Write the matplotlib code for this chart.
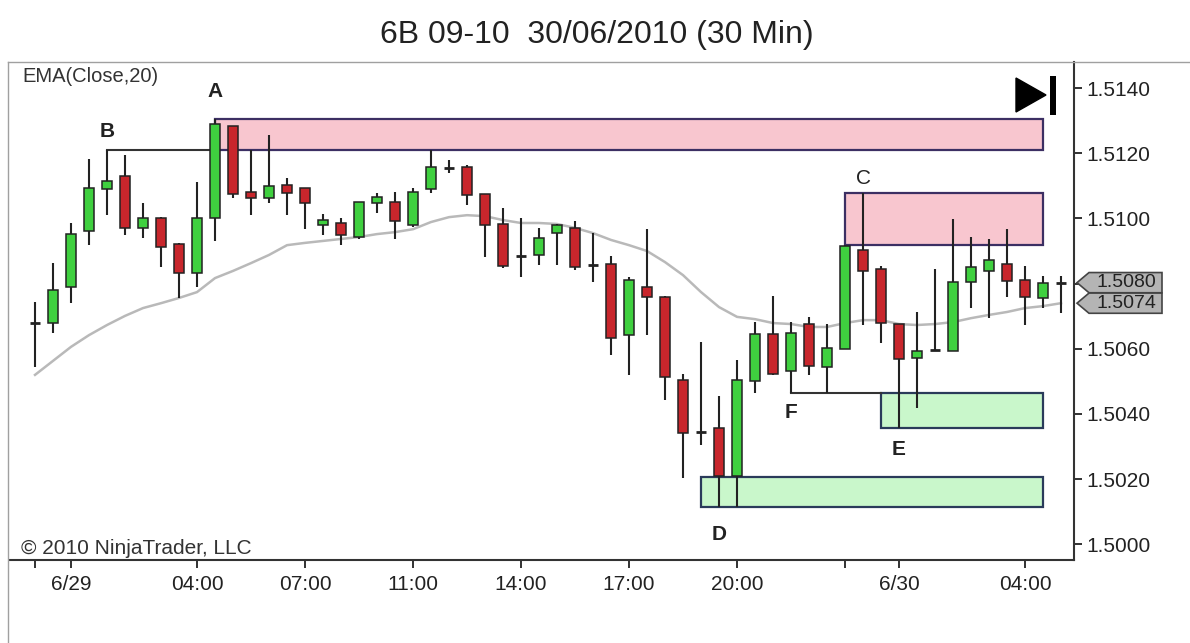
import matplotlib
matplotlib.use('Agg')
import matplotlib.pyplot as plt
from matplotlib.patches import Rectangle, Polygon
from matplotlib.lines import Line2D
from matplotlib.transforms import blended_transform_factory

plt.rcParams['font.family'] = ['Liberation Sans', 'DejaVu Sans']

title = '6B 09-10  30/06/2010 (30 Min)'

# 30 min bars
opens = [1.50679, 1.50679, 1.50790, 1.50961, 1.51090, 1.51130, 1.50971, 1.51001, 1.50921, 1.50833,
         1.51001, 1.51283, 1.51081, 1.51063, 1.51102, 1.51093, 1.50980, 1.50986, 1.50943, 1.51047,
         1.51050, 1.50980, 1.51090, 1.51155, 1.51158, 1.51075, 1.50983, 1.50885, 1.50888, 1.50955,
         1.50971, 1.50857, 1.50860, 1.50642, 1.50790, 1.50759, 1.50504, 1.50345, 1.50357, 1.50210,
         1.50501, 1.50645, 1.50532, 1.50676, 1.50544, 1.50599, 1.50903, 1.50845, 1.50676, 1.50572,
         1.50596, 1.50593, 1.50805, 1.50839, 1.50860, 1.50811, 1.50756, 1.50803]
highs = [1.50744, 1.50863, 1.50986, 1.51182, 1.51210, 1.51194, 1.51047, 1.51004, 1.50924, 1.51112,
         1.51305, 1.51285, 1.51210, 1.51256, 1.51124, 1.51093, 1.51013, 1.51001, 1.51050, 1.51078,
         1.51081, 1.51093, 1.51210, 1.51179, 1.51164, 1.51075, 1.51032, 1.51001, 1.50971, 1.50983,
         1.50992, 1.50955, 1.50885, 1.50820, 1.50967, 1.50762, 1.50523, 1.50621, 1.50455, 1.50566,
         1.50682, 1.50762, 1.50682, 1.50698, 1.50676, 1.50918, 1.51078, 1.50854, 1.50676, 1.50713,
         1.50845, 1.50998, 1.50943, 1.50937, 1.50967, 1.50854, 1.50823, 1.50823]
lows = [1.50544, 1.50648, 1.50740, 1.50918, 1.51010, 1.50949, 1.50940, 1.50851, 1.50756, 1.50790,
        1.50931, 1.51063, 1.51010, 1.51047, 1.51010, 1.50967, 1.50949, 1.50918, 1.50937, 1.51017,
        1.50937, 1.50974, 1.51078, 1.51139, 1.51041, 1.50882, 1.50848, 1.50820, 1.50857, 1.50857,
        1.50842, 1.50805, 1.50581, 1.50520, 1.50642, 1.50443, 1.50204, 1.50305, 1.50115, 1.50115,
        1.50464, 1.50520, 1.50464, 1.50520, 1.50464, 1.50599, 1.50673, 1.50618, 1.50357, 1.50418,
        1.50594, 1.50593, 1.50725, 1.50694, 1.50759, 1.50673, 1.50725, 1.50710]
closes = [1.50679, 1.50780, 1.50952, 1.51093, 1.51115, 1.50971, 1.51001, 1.50912, 1.50833, 1.51001,
          1.51290, 1.51075, 1.51063, 1.51099, 1.51078, 1.51047, 1.50995, 1.50949, 1.51050, 1.51066,
          1.50992, 1.51081, 1.51158, 1.51155, 1.51072, 1.50980, 1.50854, 1.50885, 1.50940, 1.50980,
          1.50851, 1.50857, 1.50633, 1.50811, 1.50759, 1.50513, 1.50342, 1.50345, 1.50210, 1.50504,
          1.50645, 1.50523, 1.50648, 1.50547, 1.50602, 1.50915, 1.50839, 1.50679, 1.50569, 1.50593,
          1.50596, 1.50805, 1.50851, 1.50872, 1.50808, 1.50759, 1.50802, 1.50803]
ema20 = [1.50520, 1.50563, 1.50606, 1.50642, 1.50673, 1.50701, 1.50725, 1.50740, 1.50756, 1.50774,
         1.50817, 1.50839, 1.50863, 1.50888, 1.50918, 1.50925, 1.50931, 1.50937, 1.50943, 1.50952,
         1.50958, 1.50967, 1.50989, 1.51004, 1.51010, 1.51007, 1.50995, 1.50986, 1.50986, 1.50983,
         1.50971, 1.50955, 1.50934, 1.50918, 1.50900, 1.50866, 1.50826, 1.50774, 1.50728, 1.50698,
         1.50691, 1.50679, 1.50676, 1.50667, 1.50667, 1.50679, 1.50688, 1.50688, 1.50676, 1.50673,
         1.50676, 1.50682, 1.50694, 1.50704, 1.50713, 1.50725, 1.50731, 1.50740]

tick_idx = [0, 2, 9, 15, 21, 27, 33, 39, 45, 48, 55]
tick_lbl = ['', '6/29', '04:00', '07:00', '11:00', '14:00', '17:00', '20:00', '', '6/30', '04:00']
price_ticks = [1.5000, 1.5020, 1.5040, 1.5060, 1.5080, 1.5100, 1.5120, 1.5140]

# drawn zones: bar index from/to, price low/high
zone_start = [10, 45, 47, 37]
zone_end = [56, 56, 56, 56]
zone_lo = [1.51210, 1.50918, 1.50357, 1.50115]
zone_hi = [1.51305, 1.51078, 1.50464, 1.50207]
zone_kind = ['supply', 'supply', 'demand', 'demand']

# horizontal marker lines (B and F)
line_from = [4, 42]
line_to = [10, 47]
line_lvl = [1.51210, 1.50464]

W, H = 1190, 643
fig = plt.figure(figsize=(W / 100, H / 100), dpi=100)
fig.patch.set_facecolor('white')
ax = fig.add_axes([10 / W, 1 - 560 / H, 1064 / W, 498 / H])

dark = '#222222'
green = '#3fd03f'
red = '#c8262c'

for i in range(len(zone_start)):
    fc = '#f8c6cf' if zone_kind[i] == 'supply' else '#c9f7cb'
    ec = '#3c2f63' if zone_kind[i] == 'supply' else '#2a3b5a'
    ax.add_patch(Rectangle((zone_start[i], zone_lo[i]), zone_end[i] - zone_start[i],
                           zone_hi[i] - zone_lo[i], fc=fc, ec=ec, lw=1.6, zorder=1))

for i in range(len(line_from)):
    ax.plot([line_from[i], line_to[i]], [line_lvl[i], line_lvl[i]], color='#333333', lw=1.5, zorder=2)

ax.plot(range(len(ema20)), ema20, color='#b9b9b9', lw=1.8, zorder=2)

bw = 0.55
for i in range(len(opens)):
    o, h, l, c = opens[i], highs[i], lows[i], closes[i]
    ax.vlines(i, l, h, color=dark, lw=1.5, zorder=3)
    if abs(c - o) < 0.00002:
        ax.hlines(o, i - bw / 2, i + bw / 2, color=dark, lw=2, zorder=4)
    else:
        col = green if c > o else red
        ax.add_patch(Rectangle((i - bw / 2, min(o, c)), bw, abs(c - o),
                               fc=col, ec=dark, lw=1.1, zorder=4))

ax.set_xlim(-1.39, 57.72)
ax.set_ylim(1.49952, 1.51480)

# scale labels hidden under the last-price marker are left blank
marker_vals = [closes[-1], ema20[-1]]
ylbl = []
for p in price_ticks:
    covered = any(abs(p - v) < 0.0003 for v in marker_vals)
    ylbl.append('' if covered else f'{p:.4f}')

ax.yaxis.tick_right()
ax.set_yticks(price_ticks)
ax.set_yticklabels(ylbl)
ax.set_xticks(tick_idx)
ax.set_xticklabels(tick_lbl)
ax.tick_params(axis='both', labelsize=15, colors=dark, length=6, width=1.3, direction='out')
ax.tick_params(axis='x', pad=5)
ax.tick_params(axis='y', pad=3)
for s in ['left', 'top']:
    ax.spines[s].set_visible(False)
for s in ['right', 'bottom']:
    ax.spines[s].set_color('#333333')
    ax.spines[s].set_linewidth(1.5)

# letters
letters = {'A': (10, 1.51388, 'bold'), 'B': (4, 1.51268, 'bold'), 'C': (46, 1.51124, 'normal'),
           'D': (38, 1.50029, 'bold'), 'E': (48, 1.50290, 'bold'), 'F': (42, 1.50406, 'bold')}
for k, (x, y, wt) in letters.items():
    ax.text(x, y, k, ha='center', va='center', fontsize=15, fontweight=wt, color=dark, zorder=5)

ax.text(12 / 1064, 0.970, 'EMA(Close,20)', transform=ax.transAxes, fontsize=14.5,
        color='#333333', ha='left', va='center')
ax.text(11 / 1064, 0.024, '\u00a9 2010 NinjaTrader, LLC', transform=ax.transAxes, fontsize=15,
        color='#333333', ha='left', va='center')

# last price / ema markers on the price scale
tr = blended_transform_factory(fig.transFigure, ax.transData)
hh = 0.00031
for val in marker_vals:
    pts = [(1077 / W, val), (1089 / W, val + hh), (1162 / W, val + hh),
           (1162 / W, val - hh), (1089 / W, val - hh)]
    ax.add_patch(Polygon(pts, closed=True, fc='#b4b4b4', ec='#444444', lw=1.2,
                         transform=tr, clip_on=False, zorder=6))
    ax.text(1126 / W, val, f'{val:.4f}', transform=tr, ha='center', va='center',
            fontsize=14, color=dark, zorder=7, clip_on=False)

# "go to end" button
tri = Polygon([(1016 / W, 1 - 78 / H), (1016 / W, 1 - 112 / H), (1046 / W, 1 - 95 / H)],
              closed=True, fc='black', ec='black', transform=fig.transFigure)
bar = Rectangle((1050 / W, 1 - 115 / H), 6 / W, 39 / H, fc='black', ec='none', transform=fig.transFigure)
fig.patches.extend([tri, bar])

# panel frame
fig.lines.append(Line2D([8 / W, 8 / W], [0, 1 - 62 / H], transform=fig.transFigure, color='#a0a0a0', lw=1))
fig.lines.append(Line2D([8 / W, 1], [1 - 62 / H, 1 - 62 / H], transform=fig.transFigure, color='#a0a0a0', lw=1))

fig.text(597 / W, 1 - 35 / H, title, ha='center', va='center', fontsize=23, color=dark)

fig.savefig('out.png', dpi=100)
